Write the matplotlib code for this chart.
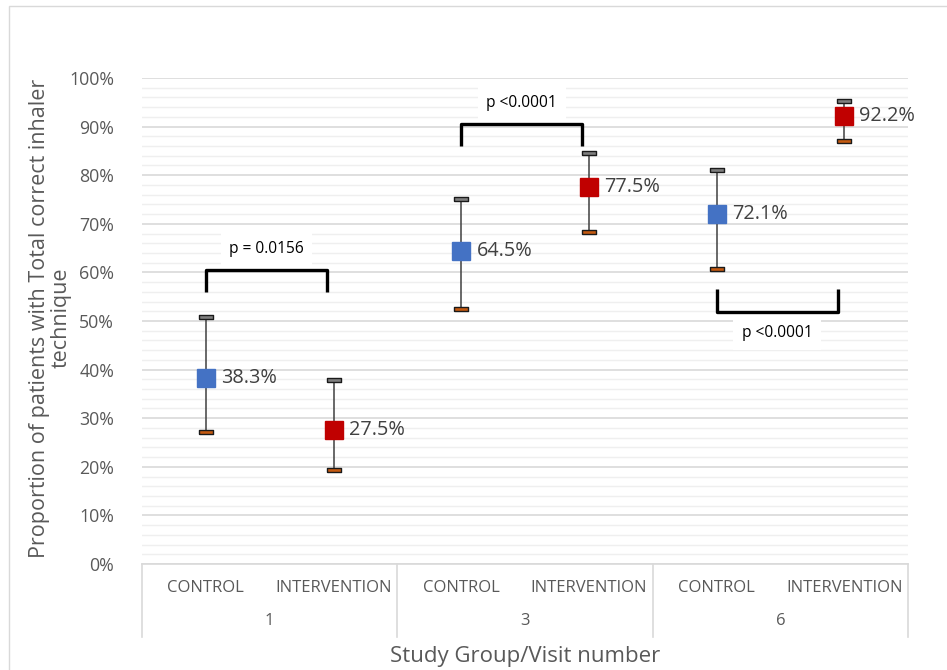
import matplotlib.pyplot as plt
from matplotlib.transforms import blended_transform_factory
from matplotlib.patches import Rectangle

plt.rcParams['font.family'] = ['Open Sans', 'DejaVu Sans']

# data
groups = ['CONTROL', 'INTERVENTION', 'CONTROL', 'INTERVENTION', 'CONTROL', 'INTERVENTION']
visits = ['1', '3', '6']
values = [38.3, 27.5, 64.5, 77.5, 72.1, 92.2]
upper = [50.8, 37.9, 75.1, 84.6, 81.1, 95.3]
lower = [27.2, 19.3, 52.5, 68.3, 60.7, 87.0]
colors = ['#4472C4', '#C00000', '#4472C4', '#C00000', '#4472C4', '#C00000']

# significance brackets: (x0, x1, level, text)
brackets = [(0, 1, 60.5, 'p = 0.0156'), (2, 3, 90.5, 'p <0.0001'), (4, 5, 51.8, 'p <0.0001')]

fig = plt.figure(figsize=(9.47, 6.70), dpi=100)
ax = fig.add_axes([142 / 947, 106 / 670, 766 / 947, 486 / 670])

# outer frame (top/left visible)
fig.patches.append(Rectangle((9 / 947, -0.1), 1.2, (664 / 670) + 0.1, transform=fig.transFigure,
                             fill=False, edgecolor='#d9d9d9', linewidth=1.0))

ax.set_xlim(-0.5, 5.5)
ax.set_ylim(0, 100)
for s in ['top', 'right', 'left']:
    ax.spines[s].set_visible(False)
ax.spines['bottom'].set_color('#d9d9d9')
ax.spines['bottom'].set_linewidth(1.2)

ax.set_yticks(range(0, 101, 10))
ax.set_yticklabels([f'{v}%' for v in range(0, 101, 10)], fontsize=12.8, color='#595959')
ax.set_yticks(range(0, 101, 2), minor=True)
ax.tick_params(axis='y', which='both', length=0, pad=20)
ax.grid(axis='y', which='major', color='#d9d9d9', linewidth=1.2)
ax.grid(axis='y', which='minor', color='#efefef', linewidth=1.0)
ax.set_axisbelow(True)
ax.set_xticks([])

fig.text(50 / 947, 352 / 670, 'Proportion of patients with Total correct inhaler\ntechnique',
         rotation=90, ha='center', va='center', multialignment='center',
         fontsize=15.5, color='#595959', linespacing=1.05)

# error bars
xs = list(range(len(values)))
ax.vlines(xs, lower, upper, color='#404040', linewidth=1.1, zorder=3)
cap = [(-3.5, -1), (3.5, -1), (3.5, 1), (-3.5, 1), (-3.5, -1)]
ax.plot(xs, upper, linestyle='none', marker=cap, markersize=10, markerfacecolor='#7f7f7f',
        markeredgecolor='#1a1a1a', markeredgewidth=1.0, zorder=4)
ax.plot(xs, lower, linestyle='none', marker=cap, markersize=10, markerfacecolor='#C55A11',
        markeredgecolor='#1a1a1a', markeredgewidth=1.0, zorder=4)

# points + labels
for x, v, c in zip(xs, values, colors):
    ax.plot(x, v, marker='s', markersize=12.5, color=c, markeredgecolor=c, zorder=5)
    ax.annotate(f'{v}%', (x, v), xytext=(11, 0), textcoords='offset points',
                ha='left', va='center', fontsize=14.3, color='#404040')

# brackets
for x0, x1, lvl, txt in brackets:
    if lvl < 55:
        ys = [lvl + 4.7, lvl, lvl, lvl + 4.7]
        ty = lvl - 4.3
    else:
        ys = [lvl - 4.5, lvl, lvl, lvl - 4.5]
        ty = lvl + 4.3
    ax.plot([x0, x0, x1 - 0.05, x1 - 0.05], ys, color='black', linewidth=2.4,
            solid_joinstyle='round', solid_capstyle='butt', zorder=3)
    ax.text((x0 + x1 - 0.05) / 2, ty, txt, ha='center', va='center', fontsize=11.2, color='black',
            bbox=dict(facecolor='white', edgecolor='none', pad=6), zorder=4)

# multi-level category axis
trans = blended_transform_factory(ax.transData, ax.transAxes)
for x, g in zip(xs, groups):
    ax.text(x, -0.049, g, transform=trans, ha='center', va='center', fontsize=12, color='#595959')
for i, vlab in enumerate(visits):
    ax.text(2 * i + 0.5, -0.117, vlab, transform=trans, ha='center', va='center',
            fontsize=12, color='#595959')
for xb in [-0.5, 1.5, 3.5, 5.5]:
    ax.plot([xb, xb], [0, -0.150], transform=trans, color='#d9d9d9', linewidth=1.2, clip_on=False)

ax.text(2.5, -0.19, 'Study Group/Visit number', transform=trans, ha='center', va='center',
        fontsize=16, color='#595959')

fig.savefig('out.png', dpi=100)
